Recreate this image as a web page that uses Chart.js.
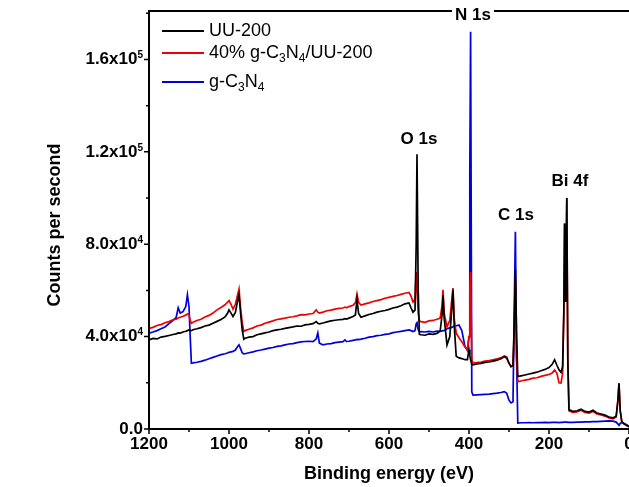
<!DOCTYPE html>
<html>
<head>
<meta charset="utf-8">
<script src="https://cdn.jsdelivr.net/npm/chart.js@4.4.1/dist/chart.umd.min.js"></script>
<style>
  html, body { margin: 0; padding: 0; background: #fff; overflow: hidden; }
  #wrap { width: 660px; height: 487px; }
</style>
</head>
<body>
<div id="wrap"><canvas id="xps" width="660" height="487"></canvas></div>
<script>
/* ============================================================
   XPS survey — UU-200 / 40% g-C3N4/UU-200 / g-C3N4
   counts per second are kept in thousands (1 = 1x10^3)
   ============================================================ */

const energies = [
  1200, 1190, 1180, 1170, 1160, 1150, 1140, 1132, 1127, 1122, 1115, 1108, 1104, 1100, 1097, 1094, 1090,
  1080, 1070, 1060, 1050, 1040, 1030, 1020, 1010, 1004, 1000, 995, 990, 984, 978, 975, 971, 967, 963,
  960, 950, 940, 930, 920, 910, 900, 890, 880, 870, 860, 850, 840, 830, 820, 810, 800, 790,
  782, 778, 774, 765, 755, 745, 735, 725, 715, 710, 706, 700, 690, 684, 680, 676, 670, 660,
  650, 640, 630, 620, 610, 600, 590, 580, 570, 560, 550, 545, 540, 535, 532, 530, 527, 524,
  520, 510, 500, 490, 480, 472, 467, 465, 462, 455, 448, 443, 440, 437, 432, 425, 418, 410, 404, 400, 398, 396, 393, 390,
  380, 370, 360, 350, 340, 330, 320, 312, 306, 300, 295, 290, 287, 284, 281, 278,
  270, 260, 250, 240, 230, 220, 210, 200, 192, 186, 180, 175, 170, 166, 163, 161, 158.5, 155.5, 153, 150,
  140, 130, 120, 110, 100, 90, 80, 70, 60, 50, 40, 32, 28, 25, 22, 18, 12, 6, 0
];

const uu200 = [
  38.6, 39.2, 39.0, 39.8, 40.1, 40.5, 40.9, 41.2, 41.6, 41.5, 42.0, 42.3, 42.6, 42.9, 42.7, 42.6, 43.0,
  43.4, 43.9, 44.6, 45.0, 45.8, 46.6, 47.4, 48.5, 50.0, 51.6, 50.2, 48.7, 50.5, 56.0, 58.1, 50.0, 42.9, 38.9,
  39.3, 39.8, 40.0, 40.8, 41.2, 41.6, 42.0, 42.6, 42.9, 43.2, 43.6, 43.9, 44.2, 44.6, 44.5, 45.1, 45.3, 45.6,
  46.5, 45.8, 45.5, 45.9, 46.4, 46.8, 47.1, 47.3, 47.5, 47.8, 47.6, 48.0, 48.7, 49.4, 56.0, 50.0, 48.4, 49.0,
  49.6, 50.0, 50.6, 51.0, 51.3, 51.8, 52.4, 52.8, 53.4, 54.2, 54.6, 52.5, 50.6, 51.5, 80.0, 119.0, 60.0, 41.0,
  40.8, 40.6, 41.2, 41.0, 41.4, 42.5, 50.0, 58.0, 48.0, 36.4, 40.0, 52.0, 60.3, 45.0, 31.5, 30.8, 30.5, 30.0, 30.0, 34.3, 32.0, 30.0, 28.0, 27.8,
  28.2, 28.4, 28.8, 29.0, 29.4, 29.8, 30.4, 31.3, 30.8, 28.5, 27.0, 27.5, 45.0, 69.0, 40.0, 22.7,
  23.0, 23.4, 23.8, 24.2, 24.6, 25.2, 25.8, 26.6, 28.0, 30.0, 27.5, 25.6, 24.5, 27.0, 50.0, 89.0, 55.0, 100.0, 30.0, 8.4,
  7.6, 7.9, 8.6, 7.6, 7.3, 8.1, 6.9, 6.5, 6.0, 5.2, 4.8, 5.6, 12.0, 19.8, 8.0, 3.2, 2.2, 1.6, 1.0
];

const composite = [
  43.6, 44.0, 44.8, 45.2, 46.0, 46.5, 47.3, 47.6, 48.1, 48.4, 48.8, 49.3, 49.8, 49.5, 47.0, 45.8, 46.2,
  47.0, 47.5, 48.5, 49.2, 50.2, 51.6, 52.6, 53.8, 54.8, 55.6, 54.0, 51.9, 54.0, 58.5, 60.6, 52.5, 46.0, 42.2,
  42.6, 43.2, 43.8, 44.6, 45.0, 45.8, 46.3, 46.8, 47.4, 47.7, 48.0, 48.4, 48.6, 49.0, 49.5, 49.4, 49.8, 50.0,
  51.6, 50.6, 50.2, 50.6, 51.2, 51.5, 51.9, 52.2, 52.4, 52.8, 52.5, 53.0, 53.6, 54.6, 58.5, 54.8, 53.7, 54.2,
  54.6, 55.2, 55.6, 56.0, 56.6, 57.0, 57.4, 57.8, 58.3, 58.8, 59.1, 57.5, 55.0, 56.0, 68.0, 60.0, 50.0, 46.8,
  46.5, 46.2, 46.8, 47.0, 47.5, 48.0, 54.0, 60.3, 50.0, 44.3, 47.0, 56.0, 61.0, 48.0, 41.5, 39.5, 37.8, 35.5, 34.3, 40.0, 60.0, 68.0, 30.0, 28.6,
  28.8, 29.0, 29.4, 29.6, 30.0, 30.4, 30.8, 31.6, 31.2, 28.5, 27.0, 27.5, 40.0, 64.0, 30.0, 20.5,
  20.8, 21.2, 21.5, 22.0, 22.2, 22.8, 23.2, 23.6, 24.2, 25.6, 24.0, 20.0, 19.9, 24.0, 50.0, 89.0, 55.0, 100.0, 30.0, 7.8,
  7.2, 7.4, 8.1, 7.2, 6.9, 7.6, 6.5, 6.1, 5.6, 4.8, 4.4, 5.2, 12.0, 19.8, 8.0, 3.0, 2.1, 1.5, 1.0
];

const gc3n4 = [
  41.5, 42.0, 42.6, 43.4, 44.2, 45.6, 47.0, 48.4, 52.5, 50.2, 50.8, 53.0, 58.1, 53.0, 40.0, 28.5, 28.6,
  28.9, 29.3, 29.8, 30.4, 31.0, 31.6, 32.2, 32.6, 32.9, 33.2, 33.4, 33.6, 34.2, 35.8, 36.4, 34.8, 33.0, 32.5,
  32.6, 33.0, 33.4, 33.9, 34.2, 34.6, 35.0, 35.3, 35.8, 36.0, 36.4, 36.8, 37.0, 37.4, 37.7, 37.9, 38.0, 37.8,
  39.0, 41.6, 37.2, 36.4, 36.8, 37.0, 37.4, 37.6, 37.8, 38.6, 37.9, 38.0, 38.4, 38.6, 38.8, 38.7, 38.9, 39.3,
  39.8, 40.0, 40.4, 40.6, 41.0, 41.2, 41.7, 42.0, 42.3, 42.6, 42.9, 42.6, 42.2, 42.6, 45.5, 46.0, 43.0, 42.0,
  42.2, 42.0, 42.3, 42.0, 42.4, 42.3, 42.5, 42.6, 42.6, 43.4, 43.8, 44.0, 44.3, 44.6, 44.7, 45.0, 42.6, 35.7, 34.0, 40.0, 110.0, 172.0, 16.0, 14.7,
  14.8, 14.9, 15.0, 15.1, 15.3, 15.5, 15.8, 16.2, 15.6, 12.5, 11.3, 11.8, 50.0, 85.4, 30.0, 2.6,
  2.7, 2.7, 2.8, 2.7, 2.8, 2.8, 2.9, 2.8, 2.9, 2.9, 2.9, 2.8, 2.9, 2.9, 3.0, 3.0, 3.0, 3.0, 2.9, 2.9,
  2.9, 3.0, 3.0, 3.1, 3.1, 3.2, 3.2, 3.3, 3.4, 3.5, 3.4, 3.0, 2.2, 1.6, 2.4, 2.8, 2.4, 1.8, 1.2
];

const xTicks      = [1200, 1000, 800, 600, 400, 200, 0];
const xMinorTicks = [1100, 900, 700, 500, 300, 100];
const yTicks      = [0, 40, 80, 120, 160];
const yMinorTicks = [20, 60, 100, 140, 180];
const yTickLabels = [["0.0", ""], ["4.0x10", "4"], ["8.0x10", "4"], ["1.2x10", "5"], ["1.6x10", "5"]];

const peakLabels = [
  { text: "N 1s",  x: 473, y: 15, boxed: true },
  { text: "O 1s",  x: 419, y: 139 },
  { text: "C 1s",  x: 516, y: 215 },
  { text: "Bi 4f", x: 570, y: 181 },
];

const legendItems = [
  { color: "#000000", y: 31, parts: [["UU-200"]] },
  { color: "#ee0000", y: 53, parts: [["40% g-C"], ["3", 1], ["N"], ["4", 1], ["/UU-200"]] },
  { color: "#0000dd", y: 82, parts: [["g-C"], ["3", 1], ["N"], ["4", 1]] },
];

const FAM = '"Liberation Sans", Arial, sans-serif';

function pts(values) {
  return energies.map((e, i) => ({ x: e, y: values[i] }));
}

const decor = {
  id: "decor",
  afterDraw(chart) {
    const { ctx, chartArea: a, scales: { x, y } } = chart;
    ctx.save();

    // ── frame ──
    ctx.strokeStyle = "#000";
    ctx.lineWidth = 2;
    ctx.beginPath();
    ctx.moveTo(a.right + 2, a.top);
    ctx.lineTo(a.left, a.top);
    ctx.lineTo(a.left, a.bottom);
    ctx.lineTo(a.right + 2, a.bottom);
    ctx.stroke();

    // ── ticks ──
    ctx.lineWidth = 1.5;
    ctx.beginPath();
    xTicks.forEach(v => { const px = x.getPixelForValue(v); ctx.moveTo(px, a.bottom); ctx.lineTo(px, a.bottom + 5); });
    xMinorTicks.forEach(v => { const px = x.getPixelForValue(v); ctx.moveTo(px, a.bottom); ctx.lineTo(px, a.bottom + 3); });
    yTicks.forEach(v => { const py = y.getPixelForValue(v); ctx.moveTo(a.left, py); ctx.lineTo(a.left - 5, py); });
    yMinorTicks.forEach(v => { const py = y.getPixelForValue(v); ctx.moveTo(a.left, py); ctx.lineTo(a.left - 3, py); });
    ctx.stroke();

    // ── tick labels ──
    ctx.fillStyle = "#000";
    ctx.textBaseline = "middle";
    ctx.font = `bold 17px ${FAM}`;
    ctx.textAlign = "center";
    xTicks.forEach(v => ctx.fillText(String(v), x.getPixelForValue(v), a.bottom + 15));

    ctx.textAlign = "left";
    yTicks.forEach((v, i) => {
      const [base, exp] = yTickLabels[i];
      const py = y.getPixelForValue(v);
      ctx.font = `bold 17px ${FAM}`;
      const wb = ctx.measureText(base).width;
      ctx.font = `bold 10px ${FAM}`;
      const we = exp ? ctx.measureText(exp).width : 0;
      const x0 = a.left - 6 - wb - we;
      ctx.font = `bold 17px ${FAM}`;
      ctx.fillText(base, x0, py);
      if (exp) {
        ctx.font = `bold 10px ${FAM}`;
        ctx.fillText(exp, x0 + wb, py - 4);
      }
    });

    // ── axis titles ──
    ctx.font = `bold 18px ${FAM}`;
    ctx.textAlign = "center";
    ctx.fillText("Binding energy (eV)", (a.left + a.right) / 2, 474);
    ctx.save();
    ctx.translate(55, 225);
    ctx.rotate(-Math.PI / 2);
    ctx.fillText("Counts per second", 0, 0);
    ctx.restore();

    // ── peak labels ──
    ctx.font = `bold 17px ${FAM}`;
    peakLabels.forEach(p => {
      if (p.boxed) {
        const w = ctx.measureText(p.text).width + 6;
        ctx.fillStyle = "#fff";
        ctx.fillRect(p.x - w / 2, p.y - 9, w, 18);
        ctx.fillStyle = "#000";
      }
      ctx.fillText(p.text, p.x, p.y);
    });

    // ── legend ──
    ctx.textAlign = "left";
    legendItems.forEach(item => {
      ctx.strokeStyle = item.color;
      ctx.lineWidth = 2;
      ctx.beginPath();
      ctx.moveTo(162, item.y);
      ctx.lineTo(204, item.y);
      ctx.stroke();
      let cx = 209;
      item.parts.forEach(([t, sub]) => {
        ctx.font = sub ? `12px ${FAM}` : `18px ${FAM}`;
        ctx.fillStyle = "#000";
        ctx.fillText(t, cx, sub ? item.y + 6 : item.y);
        cx += ctx.measureText(t).width;
      });
    });

    ctx.restore();
  }
};

new Chart(document.getElementById("xps"), {
  type: "line",
  data: {
    datasets: [
      { label: "UU-200",            data: pts(uu200),     borderColor: "#000000", order: 0 },
      { label: "40% g-C3N4/UU-200", data: pts(composite), borderColor: "#ee0000", order: 1 },
      { label: "g-C3N4",            data: pts(gc3n4),     borderColor: "#0000dd", order: 2 },
    ]
  },
  options: {
    responsive: false,
    animation: false,
    devicePixelRatio: 1,
    layout: { padding: { top: 11, right: 31, left: 0, bottom: 0 } },
    elements: {
      line: { borderWidth: 1.7, tension: 0, fill: false },
      point: { radius: 0, hoverRadius: 0 }
    },
    plugins: { legend: { display: false }, tooltip: { enabled: false } },
    scales: {
      x: {
        type: "linear", reverse: true, min: 0, max: 1200,
        ticks: { display: false }, grid: { display: false }, border: { display: false },
        afterFit: s => { s.height = 58; }
      },
      y: {
        type: "linear", min: 0, max: 181,
        ticks: { display: false }, grid: { display: false }, border: { display: false },
        afterFit: s => { s.width = 149; }
      }
    }
  },
  plugins: [decor]
});
</script>
</body>
</html>
